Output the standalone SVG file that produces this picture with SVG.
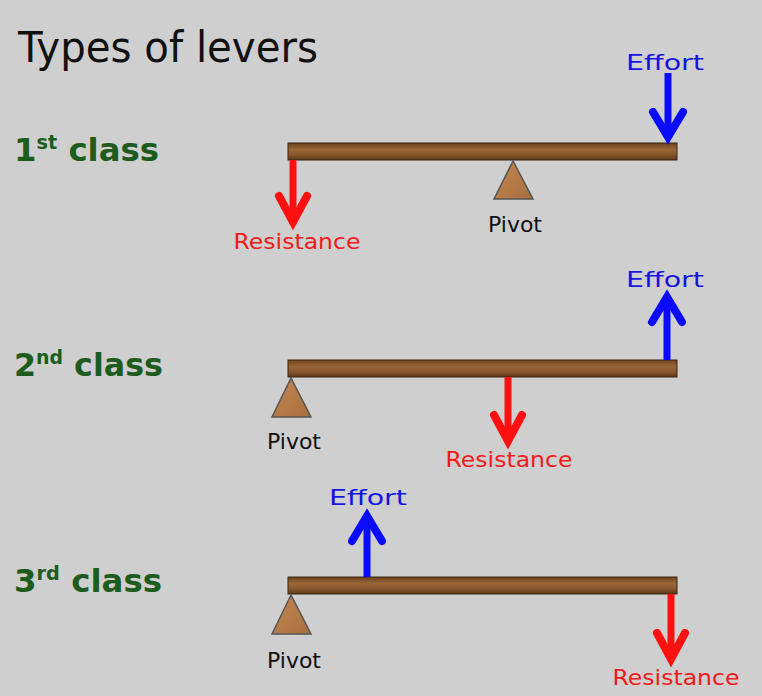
<svg xmlns="http://www.w3.org/2000/svg" width="762" height="696" viewBox="0 0 762 696">
<style>
.title{font-family:"DejaVu Sans","Liberation Sans",sans-serif;font-size:42px;fill:#111}
.cls{font-family:"DejaVu Sans","Liberation Sans",sans-serif;font-size:32px;font-weight:bold;fill:#1d5c1d}
.sup{font-size:19px}
.lbl{font-family:"DejaVu Sans","Liberation Sans",sans-serif;font-size:22px;text-anchor:middle}
.piv{fill:#111}
.eff{fill:#1515e0}
.res{fill:#f21a1a}
.beam{fill:url(#wood);stroke:#3a2410;stroke-width:1}
.pivot{fill:url(#wood2);stroke:#555;stroke-width:1.5}
.shaft-r{stroke:#ff1010;stroke-width:7;fill:none}
.shaft-b{stroke:#0a0aff;stroke-width:7;fill:none}
.head-r{stroke:#ff1010;stroke-width:8;fill:none;stroke-linecap:round;stroke-linejoin:miter}
.head-b{stroke:#0a0aff;stroke-width:8;fill:none;stroke-linecap:round;stroke-linejoin:miter}
</style>
<defs>
<linearGradient id="wood" x1="0" y1="0" x2="0" y2="1">
<stop offset="0" stop-color="#6e4320"/>
<stop offset="0.4" stop-color="#9a6636"/>
<stop offset="0.7" stop-color="#85552b"/>
<stop offset="1" stop-color="#5e381a"/>
</linearGradient>
<linearGradient id="wood2" x1="0" y1="0" x2="1" y2="1">
<stop offset="0" stop-color="#c48550"/>
<stop offset="1" stop-color="#a8703e"/>
</linearGradient>
</defs>
<rect width="762" height="696" fill="#cfcfcf"/>
<text class="title" x="18" y="62" textLength="300" lengthAdjust="spacingAndGlyphs">Types of levers</text>

<g id="lever1">
<text class="cls" x="14" y="161" textLength="145" lengthAdjust="spacingAndGlyphs">1<tspan class="sup" dy="-12">st</tspan><tspan dy="12"> class</tspan></text>
<rect class="beam" x="288" y="143" width="389" height="17"/>
<polygon class="pivot" points="513,161 494,199 533,199"/>
<text class="lbl piv" x="515" y="232">Pivot</text>
</g>
<g id="lever2">
<text class="cls" x="14" y="376" textLength="149" lengthAdjust="spacingAndGlyphs">2<tspan class="sup" dy="-12">nd</tspan><tspan dy="12"> class</tspan></text>
<rect class="beam" x="288" y="360" width="389" height="17"/>
<polygon class="pivot" points="291,378 272,417 311,417"/>
<text class="lbl piv" x="294" y="449">Pivot</text>
</g>
<g id="lever3">
<text class="cls" x="14" y="592" textLength="148" lengthAdjust="spacingAndGlyphs">3<tspan class="sup" dy="-12">rd</tspan><tspan dy="12"> class</tspan></text>
<rect class="beam" x="288" y="577" width="389" height="17"/>
<polygon class="pivot" points="291,595 272,634 311,634"/>
<text class="lbl piv" x="294" y="668">Pivot</text>
</g>

<g id="connectors">
<line class="shaft-r" x1="293" y1="160" x2="293" y2="224"/>
<polyline class="head-r" points="279,196 293,222 307,196"/>
<line class="shaft-b" x1="668" y1="73" x2="668" y2="138"/>
<polyline class="head-b" points="653,112 668,137 683,112"/>
<line class="shaft-r" x1="508" y1="377" x2="508" y2="442"/>
<polyline class="head-r" points="494,415 508,441 522,415"/>
<line class="shaft-b" x1="667" y1="360" x2="667" y2="296"/>
<polyline class="head-b" points="652,322 667,297 682,322"/>
<line class="shaft-b" x1="367" y1="577" x2="367" y2="517"/>
<polyline class="head-b" points="352,541 367,516 382,541"/>
<line class="shaft-r" x1="671" y1="594" x2="671" y2="660"/>
<polyline class="head-r" points="657,633 671,659 685,633"/>
</g>

<g id="labels">
<text class="lbl res" x="297" y="249" textLength="127" lengthAdjust="spacingAndGlyphs">Resistance</text>
<text class="lbl eff" x="665" y="70" textLength="78" lengthAdjust="spacingAndGlyphs">Effort</text>
<text class="lbl res" x="509" y="467" textLength="127" lengthAdjust="spacingAndGlyphs">Resistance</text>
<text class="lbl eff" x="665" y="287" textLength="78" lengthAdjust="spacingAndGlyphs">Effort</text>
<text class="lbl eff" x="368" y="505" textLength="78" lengthAdjust="spacingAndGlyphs">Effort</text>
<text class="lbl res" x="676" y="685" textLength="127" lengthAdjust="spacingAndGlyphs">Resistance</text>
</g>
</svg>
